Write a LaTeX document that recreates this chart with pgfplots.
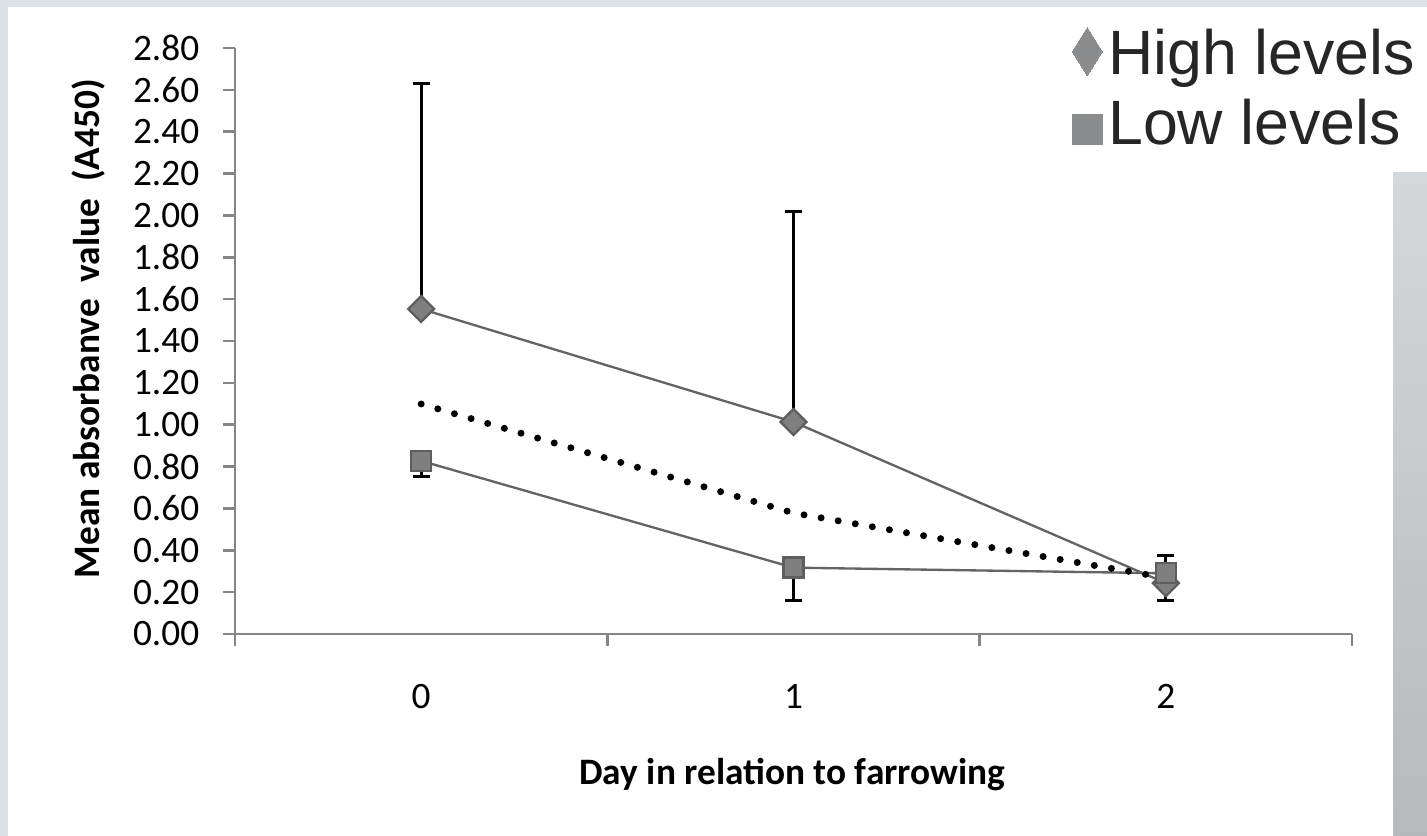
\documentclass[border=0pt]{standalone}
\usepackage{pgfplots}
\pgfplotsset{compat=1.18}
\usepackage{pgfplotstable}
\usepackage{fontspec}
\setmainfont{Carlito}
\newfontfamily\legfont{Liberation Sans}
\definecolor{axgray}{HTML}{868686}
\definecolor{lngray}{HTML}{646464}
\definecolor{mkfill}{HTML}{7F7F7F}
\definecolor{mkdraw}{HTML}{5E5E5E}
\definecolor{legmk}{HTML}{8A8C8E}
\definecolor{legtxt}{HTML}{262626}
\definecolor{framegray}{HTML}{DDE2E6}
\definecolor{bandtop}{HTML}{D5D8DB}
\definecolor{bandbot}{HTML}{B7BABD}

\pgfplotsset{
  highleg/.style={legend image code/.code={\draw[##1] plot coordinates {(4.5pt,2.05pt)};}},
  lowleg/.style={legend image code/.code={\draw[##1] plot coordinates {(4.5pt,-0.35pt)};}},
}

\pgfplotstableread{
x y ep
0 1.553 1.077
1 1.013 1.007
2 0.243 0.134
}\high
\pgfplotstableread{
x y em
0 0.827 0.076
1 0.317 0.159
2 0.290 0.132
}\low
\pgfplotstableread{
x y
0 1.099
1 0.578
2 0.268
}\avg

\begin{document}
\begin{tikzpicture}
\fill[framegray] (0,0) rectangle (428.1pt,250.8pt);
\fill[white] (2.4pt,0) rectangle (428.1pt,248.7pt);
\shade[top color=bandtop, bottom color=bandbot] (417.9pt,0) rectangle (428.1pt,198.9pt);
\begin{axis}[
  at={(70.5pt,60.6pt)}, anchor=south west,
  scale only axis, width=335.1pt, height=175.8pt,
  xmin=-0.5, xmax=2.5, ymin=0, ymax=2.8,
  clip=false,
  axis x line*=bottom, axis y line*=left,
  axis line style={axgray, line width=0.8pt, -},
  tick style={axgray, line width=0.8pt},
  tick align=outside, major tick length=3.6pt,
  xtick={-0.5,0.5,1.5,2.5}, xticklabels={},
  extra x ticks={0,1,2}, extra x tick labels={0,1,2},
  extra x tick style={major tick length=0pt, xticklabel style={yshift=-11.7pt}},
  ytick={0,0.2,0.4,0.6,0.8,1.0,1.2,1.4,1.6,1.8,2.0,2.2,2.4,2.6,2.8},
  /pgf/number format/assume math mode=true,
  yticklabel style={/pgf/number format/.cd, fixed, fixed zerofill, precision=2, /tikz/.cd, xshift=-3.6pt},
  tick label style={font=\fontsize{11.2}{13}\selectfont, black},
  xlabel={Day in relation to farrowing},
  ylabel={Mean absorbanve\ \ value\ \ (A450)},
  xlabel style={font=\bfseries\fontsize{11.2}{13}\selectfont, at={(axis description cs:0.499,-0.24)}, anchor=center},
  ylabel style={font=\bfseries\fontsize{11.2}{13}\selectfont, at={(axis description cs:-0.131,0.521)}, anchor=center},
  legend style={at={(0.749,1.036)}, anchor=north west, draw=none, fill=none, inner sep=0pt,
    font=\legfont\fontsize{18.8}{23}\selectfont, text=legtxt,
    nodes={inner sep=0pt, text height=13.6pt, text depth=4pt},
    row sep=3.5pt, /tikz/every odd column/.style={column sep=1.8pt}},
  legend cell align=left,
]
\addlegendimage{highleg, only marks, mark=diamond*, mark size=7.2pt, legmk, mark options={xscale=0.833, fill=legmk, draw=legmk, line width=0pt}}
\addlegendentry{High levels}
\addlegendimage{lowleg, only marks, mark=square*, mark size=4.5pt, legmk, mark options={fill=legmk, draw=legmk, line width=0pt}}
\addlegendentry{Low levels}

\addplot[lngray, line width=0.7pt, forget plot] table[x=x,y=y]{\high};
\addplot[lngray, line width=0.7pt, forget plot] table[x=x,y=y]{\low};
\addplot[black, line width=2.1pt, line cap=round, dash pattern=on 0pt off 5.2pt, forget plot] table[x=x,y=y]{\avg};
\addplot[forget plot, only marks, mark=square*, mark size=2.75pt,
  mark options={rotate=45, fill=mkfill, draw=mkdraw, line width=0.7pt},
  error bars/.cd, y dir=plus, y explicit,
  error bar style={black, line width=0.9pt},
  error mark options={rotate=90, black, mark size=2.55pt, line width=0.9pt}]
  table[x=x, y=y, y error=ep]{\high};
\addplot[forget plot, only marks, mark=square*, mark size=3.0pt,
  mark options={fill=mkfill, draw=mkdraw, line width=0.7pt},
  error bars/.cd, y dir=minus, y explicit,
  error bar style={black, line width=0.9pt},
  error mark options={rotate=90, black, mark size=2.55pt, line width=0.9pt}]
  table[x=x, y=y, y error=em]{\low};
\end{axis}
\pgfresetboundingbox
\useasboundingbox (0,0) rectangle (428.1pt,250.8pt);
\end{tikzpicture}
\end{document}
